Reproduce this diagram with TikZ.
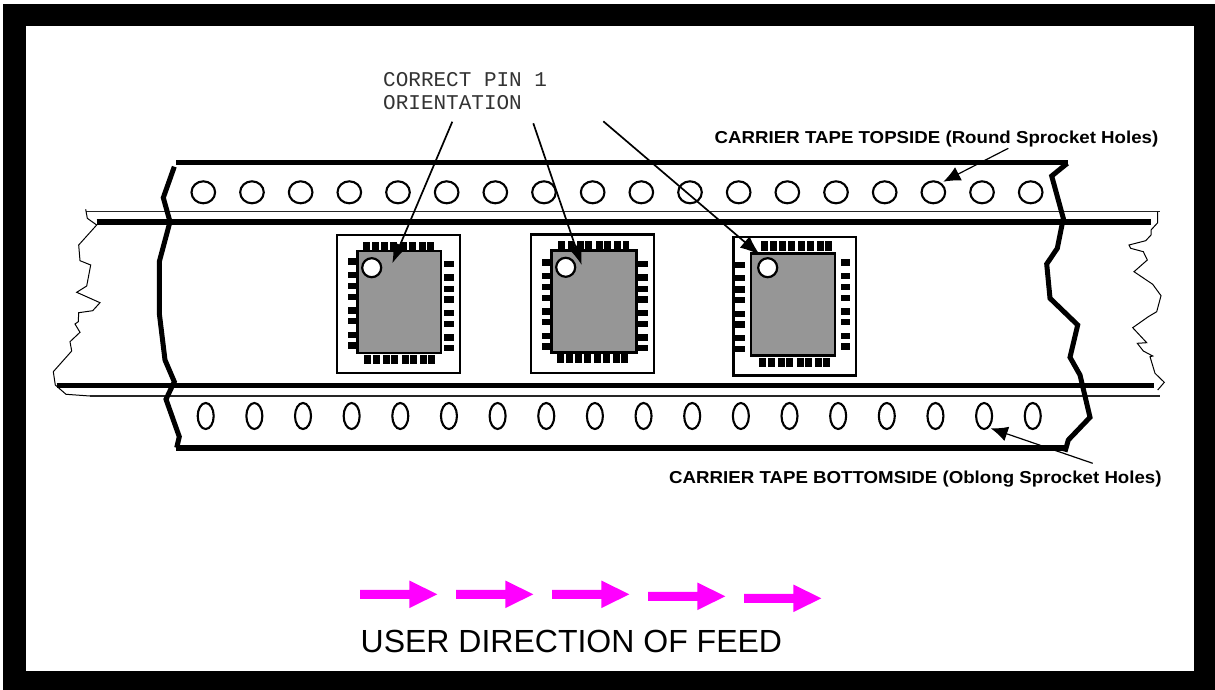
\documentclass[tikz,border=0pt]{standalone}
\usepackage{fontspec}
\setmainfont{Liberation Sans}
\newfontfamily\pinfont{Liberation Mono}
\usetikzlibrary{arrows.meta}
\definecolor{chipgray}{HTML}{969696}
\definecolor{feedpink}{HTML}{FF00FF}
\tikzset{
  tapeedge/.style={line width=5.6pt},
  tearline/.style={line width=5pt,line join=miter},
  thinline/.style={line width=1.2pt,black!85},
  jagline/.style={line width=1pt,line join=miter},
  hole/.style={line width=2.1pt},
  pkgbox/.style={draw,line width=2.2pt,fill=white},
  chipbody/.style={draw,line width=2.2pt,fill=chipgray},
  pinone/.style={draw,line width=2.2pt,fill=white},
  pointer/.style={line width=1.7pt,-{Latex[length=20pt,width=15pt]}},
  smallpointer/.style={line width=1.2pt,-{Latex[length=17pt,width=15pt]}},
  label/.style={inner sep=0pt,anchor=base west,align=left},
}
\newcommand\hpins[3]{\foreach \p in {0,9.3,18.7,27,37.7,46,56,64.3}{\fill ({#1+\p},#2) rectangle +(6.8,#3);}}
\newcommand\vpins[3]{\foreach \p in {0,13.3,24.7,35.3,49,59.7,73.3,84}{\fill (#1,{#2+\p}) rectangle +(#3,6.3);}}
\newcommand\feedarrow[2]{\fill[feedpink,shift={(#1,#2)}] (0,-4.5) -- (49.3,-4.5) -- (49.3,-13.8) -- (77.3,0) -- (49.3,13.8) -- (49.3,4.5) -- (0,4.5) -- cycle;}
\begin{document}
\begin{tikzpicture}[x=1pt,y=-1pt]
\useasboundingbox (0,0) rectangle (1215,690);
\fill[white] (0,0) rectangle (1215,690);
\fill[black] (3,4) rectangle (1215,690);
\fill[white] (26,26.5) rectangle (1193.7,671);

% tape lines
\draw[thinline] (85.5,211.3) -- (1160,211.3);
\draw[thinline] (90,396) -- (1160,396);
\draw[tapeedge] (96.5,221.7) -- (1151,221.7);
\draw[tapeedge] (56.5,385.5) -- (1154,385.5);
\draw[tapeedge] (176,162.5) -- (1067.5,162.5);
\draw[tapeedge] (176,447.7) -- (1065,447.7);

% torn ends
\draw[tearline] (174.3,166.7) -- (163.3,197.7) -- (170,221.7) -- (159.3,261.7) -- (159.3,313.3) -- (165,360) -- (174.3,381.7) -- (166,399.3) -- (179.3,436.7) -- (176.7,447.7);
\draw[tearline] (1067.3,163.3) -- (1051.7,176) -- (1063.3,218.3) -- (1057.3,248.3) -- (1046.7,264) -- (1050,298.3) -- (1077.7,325) -- (1070,357.3) -- (1080,375) -- (1090,417.3) -- (1068.3,440) -- (1065,451.7);
\draw[jagline] (85.7,209.3) -- (87.3,218.3) -- (96.7,225) -- (78.7,245) -- (80,260.7) -- (90.7,265) -- (86.7,286) -- (76.7,292.3) -- (100,302.7) -- (92.7,310.7) -- (78.7,312.7) -- (78.3,321.7) -- (75,324) -- (80,332.3) -- (70,341.7) -- (71.7,351) -- (53.3,371.7) -- (55.3,385) -- (66,394.3) -- (90,396);
\draw[jagline] (1157.7,211.7) -- (1157.7,222.7) -- (1151,230) -- (1151,235) -- (1145.7,240.7) -- (1129,245) -- (1130.7,248.3) -- (1143.3,251.7) -- (1147.3,260) -- (1134,271.7) -- (1152.7,284.3) -- (1161,295.7) -- (1156.7,311.7) -- (1148.3,316.7) -- (1132.7,327.7) -- (1146.7,342.7) -- (1137.3,343.3) -- (1143.3,351) -- (1152.7,356) -- (1150,356.7) -- (1155,373.3) -- (1164.3,382.3) -- (1157.7,390);

% sprocket holes
\foreach \i in {0,...,17}{
  \draw[hole] ({203.3+48.67*\i},192.3) ellipse [x radius=11.8pt,y radius=11pt];
  \draw[hole] ({205.7+48.65*\i},416) ellipse [x radius=8pt,y radius=13pt];
}

% package 1
\draw[pkgbox] (337,235) rectangle (460,373);
\hpins{362.7}{242}{9.5}
\hpins{364}{355}{9}
\vpins{348}{258.3}{9.5}
\vpins{444.3}{261}{9.7}
\draw[chipbody] (357.5,251) rectangle (441,353);
\draw[pinone] (371.7,267.7) circle [radius=9.5pt];

% package 2
\draw[pkgbox] (531,234.5) rectangle (654,373);
\hpins{558.3}{240.7}{9.5}
\hpins{556.7}{354}{9}
\vpins{542.3}{259.3}{9.5}
\vpins{638.3}{261}{9.7}
\draw[chipbody] (551.5,250.5) rectangle (636.5,352.5);
\draw[pinone] (565.7,267.3) circle [radius=9.5pt];

% package 3
\draw[pkgbox] (733.5,237) rectangle (855.7,375.5);
\hpins{760.7}{240.7}{10}
\hpins{759}{358.3}{9}
\vpins{735}{261.7}{9.5}
\vpins{840.7}{259.3}{9.7}
\draw[chipbody] (751,253.5) rectangle (835,355.5);
\draw[pinone] (767.7,267.7) circle [radius=9.5pt];

% pointers
\coordinate (a1s) at (452.3,121.7); \coordinate (a1e) at (392.3,263.3);
\coordinate (a2s) at (533.3,123.3); \coordinate (a2e) at (581.7,265);
\coordinate (a3s) at (603.3,121.3); \coordinate (a3e) at (760,255);
\coordinate (a4s) at (1008.3,148.3); \coordinate (a4e) at (943.3,181.7);
\coordinate (a5s) at (1092.7,463.3); \coordinate (a5e) at (990.7,428.3);
\draw[pointer] (a1s) -- (a1e);
\draw[pointer] (a2s) -- (a2e);
\draw[pointer] (a3s) -- (a3e);
\draw[smallpointer] (a4s) -- (a4e);
\draw[smallpointer] (a5s) -- (a5e);

% feed arrows
\feedarrow{360}{594.3}
\feedarrow{456}{594.3}
\feedarrow{552}{594.3}
\feedarrow{648}{596.3}
\feedarrow{744}{598.3}

% labels
\node[label,font=\pinfont\fontsize{21}{22.7}\selectfont,black!80] (pin) at (383,109.3) {CORRECT PIN 1\\ORIENTATION};
\node[label,xscale=1.08,transform shape,font=\bfseries\fontsize{17.3}{19}\selectfont] (top) at (714.5,143.5) {CARRIER TAPE TOPSIDE (Round Sprocket Holes)};
\node[label,xscale=1.08,transform shape,font=\bfseries\fontsize{17.3}{19}\selectfont] (bot) at (669,483.3) {CARRIER TAPE BOTTOMSIDE (Oblong Sprocket Holes)};
\node[label,font=\fontsize{32}{35}\selectfont] (feed) at (360.5,652.7) {USER DIRECTION OF FEED};
\end{tikzpicture}
\end{document}
